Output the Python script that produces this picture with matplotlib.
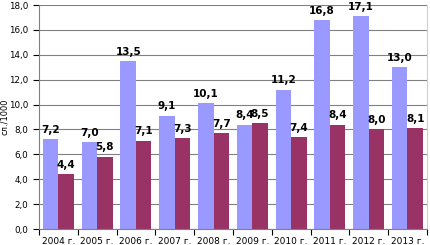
import matplotlib
matplotlib.use('Agg')
import matplotlib.pyplot as plt
import numpy as np

years = ['2004 г.', '2005 г.', '2006 г.', '2007 г.', '2008 г.',
         '2009 г.', '2010 г.', '2011 г.', '2012 г.', '2013 г.']
series1 = [7.2, 7.0, 13.5, 9.1, 10.1, 8.4, 11.2, 16.8, 17.1, 13.0]
series2 = [4.4, 5.8, 7.1, 7.3, 7.7, 8.5, 7.4, 8.4, 8.0, 8.1]
yticks = [0, 2, 4, 6, 8, 10, 12, 14, 16, 18]


def fmt(v):
    return ('%.1f' % v).replace('.', ',')


fig = plt.figure(figsize=(4.3, 2.45), dpi=100)
ax = fig.add_axes([0.0907, 0.0653, 0.902, 0.914])

x = np.arange(len(years))
width = 0.4
ax.bar(x - width / 2, series1, width=width, color='#9999ff', zorder=2)
ax.bar(x + width / 2, series2, width=width, color='#993366', zorder=2)

# data labels above each bar
for xi, v in zip(x, series1):
    ax.text(xi - width / 2, v + 0.35, fmt(v), ha='center', va='bottom',
            fontsize=7.5, fontweight='bold', zorder=3)
for xi, v in zip(x, series2):
    ax.text(xi + width / 2, v + 0.35, fmt(v), ha='center', va='bottom',
            fontsize=7.5, fontweight='bold', zorder=3)

ax.set_xlim(-0.5, len(years) - 0.5)
ax.set_ylim(0, 18)
ax.set_yticks(yticks)
ax.set_yticklabels([fmt(t) for t in yticks], fontsize=6.3)
ax.yaxis.grid(True, color='#808080', linewidth=0.8, zorder=0)

ax.set_xticks(x)
ax.set_xticklabels(years, fontsize=6.5)
ax.set_xticks(np.arange(-0.5, len(years), 1), minor=True)
ax.tick_params(axis='x', which='major', length=0, pad=6)
ax.tick_params(axis='x', which='minor', length=4, direction='out', width=0.8)
ax.tick_params(axis='y', length=4, direction='out', width=0.8, pad=3.5)

ax.spines['top'].set_visible(False)
ax.spines['right'].set_color('#d0d0d0')
ax.spines['left'].set_color('#808080')
ax.spines['bottom'].set_color('#808080')

ax.set_ylabel('сл./1000', fontsize=6)
ax.yaxis.set_label_coords(-0.077, 0.5)

plt.savefig('out.png', dpi=100)
plt.close()
